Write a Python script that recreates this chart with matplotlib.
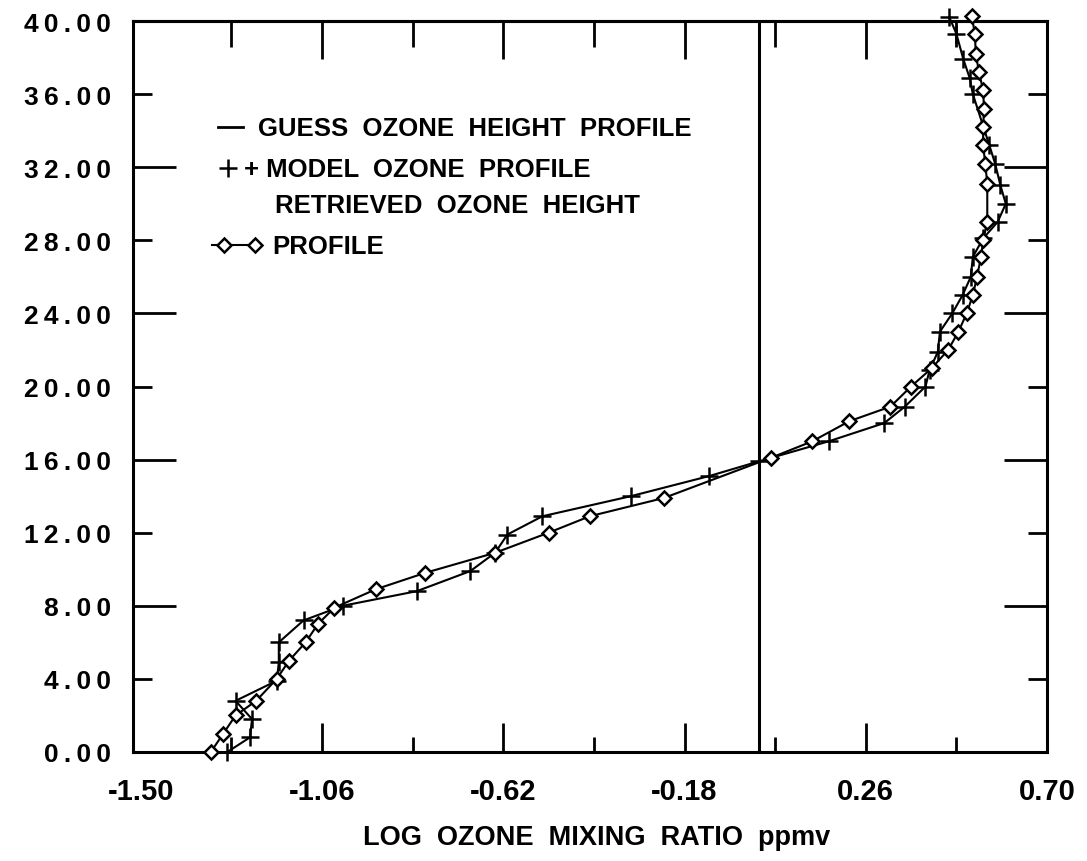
import matplotlib
matplotlib.use("Agg")
import matplotlib.pyplot as plt
from matplotlib.lines import Line2D
from matplotlib.ticker import FixedLocator, NullFormatter, FuncFormatter

# model ozone profile (crosses)
model_height = [0.0, 0.8, 1.8, 2.8, 3.9, 4.9, 6.0, 7.2, 8.0, 8.8, 9.9, 10.9, 11.9, 12.9,
                14.0, 15.1, 15.9, 17.0, 18.0, 18.9, 20.0, 20.9, 21.9, 23.0, 24.0, 25.0,
                26.0, 27.1, 28.1, 29.0, 30.0, 31.0, 32.2, 33.2, 36.0, 36.9, 37.9, 39.3, 40.2]
model_logo3 = [-1.29, -1.235, -1.23, -1.27, -1.17, -1.165, -1.165, -1.105, -1.01, -0.83,
               -0.70, -0.64, -0.61, -0.525, -0.31, -0.12, 0.0, 0.17, 0.305, 0.355, 0.405,
               0.415, 0.435, 0.44, 0.47, 0.495, 0.515, 0.52, 0.545, 0.58, 0.60, 0.587,
               0.574, 0.56, 0.52, 0.512, 0.497, 0.48, 0.463]

# retrieved ozone profile (diamonds)
retr_height = [0.0, 1.0, 2.0, 2.8, 4.0, 5.0, 6.0, 7.0, 7.9, 8.9, 9.8, 10.9, 12.0, 12.9,
               13.9, 16.1, 17.0, 18.1, 18.9, 20.0, 21.0, 22.0, 23.0, 24.0, 25.0, 26.0,
               27.1, 28.0, 29.0, 31.1, 32.2, 33.2, 34.2, 35.2, 36.2, 37.2, 38.2, 39.3, 40.3]
retr_logo3 = [-1.33, -1.30, -1.27, -1.22, -1.17, -1.14, -1.10, -1.07, -1.03, -0.93,
              -0.81, -0.64, -0.51, -0.41, -0.23, 0.03, 0.13, 0.22, 0.32, 0.37, 0.42,
              0.46, 0.485, 0.505, 0.52, 0.53, 0.54, 0.545, 0.555, 0.555, 0.55, 0.545,
              0.545, 0.547, 0.545, 0.535, 0.527, 0.525, 0.517]

# first guess: constant with height
guess_height = [0.0, 40.0]
guess_logo3 = [0.0, 0.0]

x_major = [-1.50, -1.06, -0.62, -0.18, 0.26, 0.70]
x_minor = [-1.28, -0.84, -0.40, 0.04, 0.48]
y_major = [0, 8, 16, 24, 32, 40]
y_minor = [4, 12, 20, 28, 36]

plt.rcParams['font.family'] = ['Liberation Sans', 'DejaVu Sans']
plt.rcParams['font.weight'] = 'bold'

W, H = 1087, 862
fig = plt.figure(figsize=(W / 100, H / 100), dpi=100)
ax = fig.add_axes([133 / W, 1 - 753 / H, (1047 - 133) / W, (753 - 22) / H])

ax.plot(guess_logo3, guess_height, color="black", lw=2.2)
ax.plot(model_logo3, model_height, color="black", lw=1.5, marker="+", ms=13, mew=1.8,
        clip_on=False)
ax.plot(retr_logo3, retr_height, color="black", lw=1.5, marker="D", ms=7.5, mfc="white",
        mec="black", mew=1.8, clip_on=False, zorder=3)

ax.set_xlim(-1.519, 0.70)
ax.set_ylim(0, 40)
for s in ax.spines.values():
    s.set_linewidth(2.2)

ax.xaxis.set_major_locator(FixedLocator(x_major))
ax.xaxis.set_minor_locator(FixedLocator(x_minor))
ax.xaxis.set_major_formatter(FuncFormatter(lambda v, p: f"{v:.2f}"))
ax.tick_params(axis="x", which="major", direction="in", length=21, width=2, pad=18,
               labelsize=21, top=False)
ax.tick_params(axis="x", which="minor", direction="in", length=11, width=2, top=False)
ax.xaxis.get_major_ticks()[0].tick1line.set_visible(False)

ax.yaxis.set_major_locator(FixedLocator(y_major))
ax.yaxis.set_minor_locator(FixedLocator(y_minor))
spaced = FuncFormatter(lambda v, p: "\u2009".join(f"{v:.2f}"))
ax.yaxis.set_major_formatter(spaced)
ax.yaxis.set_minor_formatter(spaced)
ax.tick_params(axis="y", which="major", direction="in", length=31, width=2, pad=16,
               labelsize=19, right=True)
ax.tick_params(axis="y", which="minor", direction="in", length=14, width=2, pad=16,
               labelsize=19, right=True)

top = ax.secondary_xaxis("top")
top.xaxis.set_major_locator(FixedLocator(x_major[1:]))
top.xaxis.set_minor_locator(FixedLocator(x_minor))
top.xaxis.set_major_formatter(NullFormatter())
top.tick_params(which="major", direction="in", length=27, width=2)
top.tick_params(which="minor", direction="in", length=19, width=2)
top.spines["top"].set_linewidth(2.2)

fig.text(597 / W, 1 - 838 / H, "LOG  OZONE  MIXING  RATIO  ppmv", ha="center",
         va="center", fontsize=19.5)

# legend block
fs = 18.5
fig.add_artist(Line2D([218 / W, 243 / W], [1 - 128 / H] * 2, color="black", lw=2))
fig.text(258 / W, 1 - 129 / H, "GUESS  OZONE  HEIGHT  PROFILE", va="center", fontsize=fs)
fig.add_artist(Line2D([228 / W], [1 - 169 / H], color="black", marker="+", ms=13, mew=1.8))
fig.text(244 / W, 1 - 170 / H, "+ MODEL  OZONE  PROFILE", va="center", fontsize=fs)
fig.text(275 / W, 1 - 206 / H, "RETRIEVED  OZONE  HEIGHT", va="center", fontsize=fs)
fig.add_artist(Line2D([212 / W, 257 / W], [1 - 246 / H] * 2, color="black", lw=1.5))
fig.add_artist(Line2D([224 / W, 255 / W], [1 - 246 / H] * 2, color="black", lw=0,
                      marker="D", ms=7, mfc="white", mec="black", mew=1.8))
fig.text(272 / W, 1 - 247 / H, "PROFILE", va="center", fontsize=fs)

fig.savefig("out.png", dpi=100)
